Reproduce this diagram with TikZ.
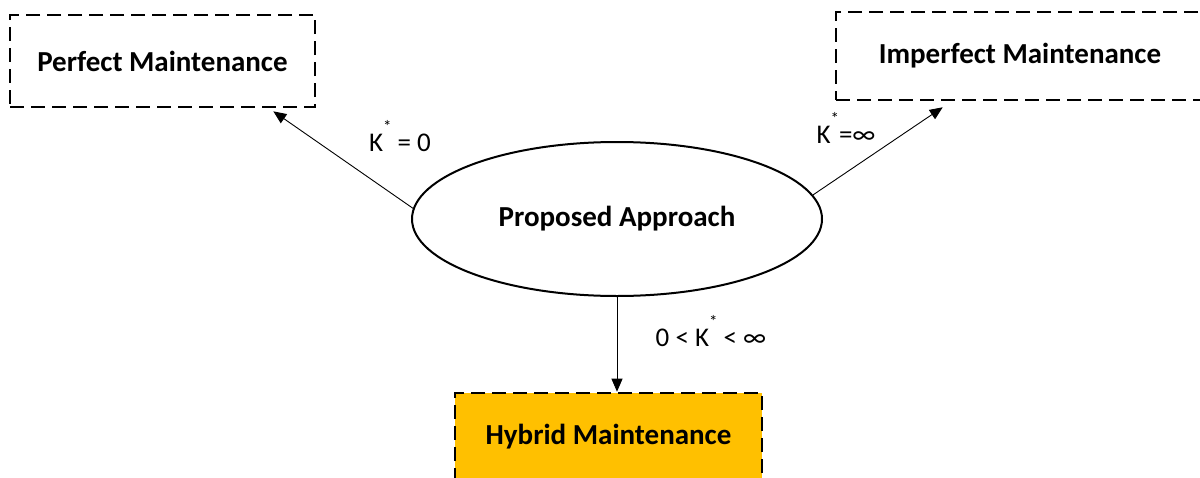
\documentclass[tikz,border=0pt]{standalone}
\usepackage{fontspec}
\setmainfont{Carlito}
\usetikzlibrary{arrows.meta,shapes.geometric}
\definecolor{hyb}{HTML}{FFC000}
\newcommand{\kst}{K\raisebox{0.7em}{\fontsize{17}{17}\selectfont *}}
\begin{document}
\begin{tikzpicture}[x=1pt,y=-1pt,
  dbox/.style={draw,line width=2.6pt,dash pattern=on 14pt off 7pt,inner sep=0pt,
     font=\fontsize{29}{35}\selectfont\bfseries},
  arr/.style={line width=0.9pt,-{Triangle[length=13pt,width=11pt]}},
  lbl/.style={font=\fontsize{27}{32}\selectfont,inner sep=0pt}]
\useasboundingbox (0,0) rectangle (1200,477);
\clip (0,0) rectangle (1200,477);
\node[dbox,minimum width=305pt,minimum height=92pt] (pm) at (162.5,61) {Perfect Maintenance};
\node[dbox,minimum width=368pt,minimum height=88pt] (im) at (1020,56) {Imperfect Maintenance};
\node[dbox,fill=hyb,minimum width=307pt,minimum height=88pt] (hm) at (608.5,437) {Hybrid Maintenance};
\node[ellipse,draw,line width=2pt,minimum width=410pt,minimum height=154pt,inner sep=0pt,
  font=\fontsize{29}{35}\selectfont\bfseries] (pa) at (617,219) {Proposed Approach};
\draw[arr] (pa.177) -- ([xshift=-43pt,yshift=-3pt]pm.south east);
\draw[arr] (pa.7) -- ([xshift=108pt,yshift=-6pt]im.south west);
\draw[arr] (pa.south) -- (pa.south |- hm.north);
\node[lbl] (l1) at (400,136) {\kst\ = 0};
\node[lbl] (l2) at (846,128) {\kst=∞};
\node[lbl] (l3) at (711,331) {0 < \kst\ < ∞};
\end{tikzpicture}
\end{document}
